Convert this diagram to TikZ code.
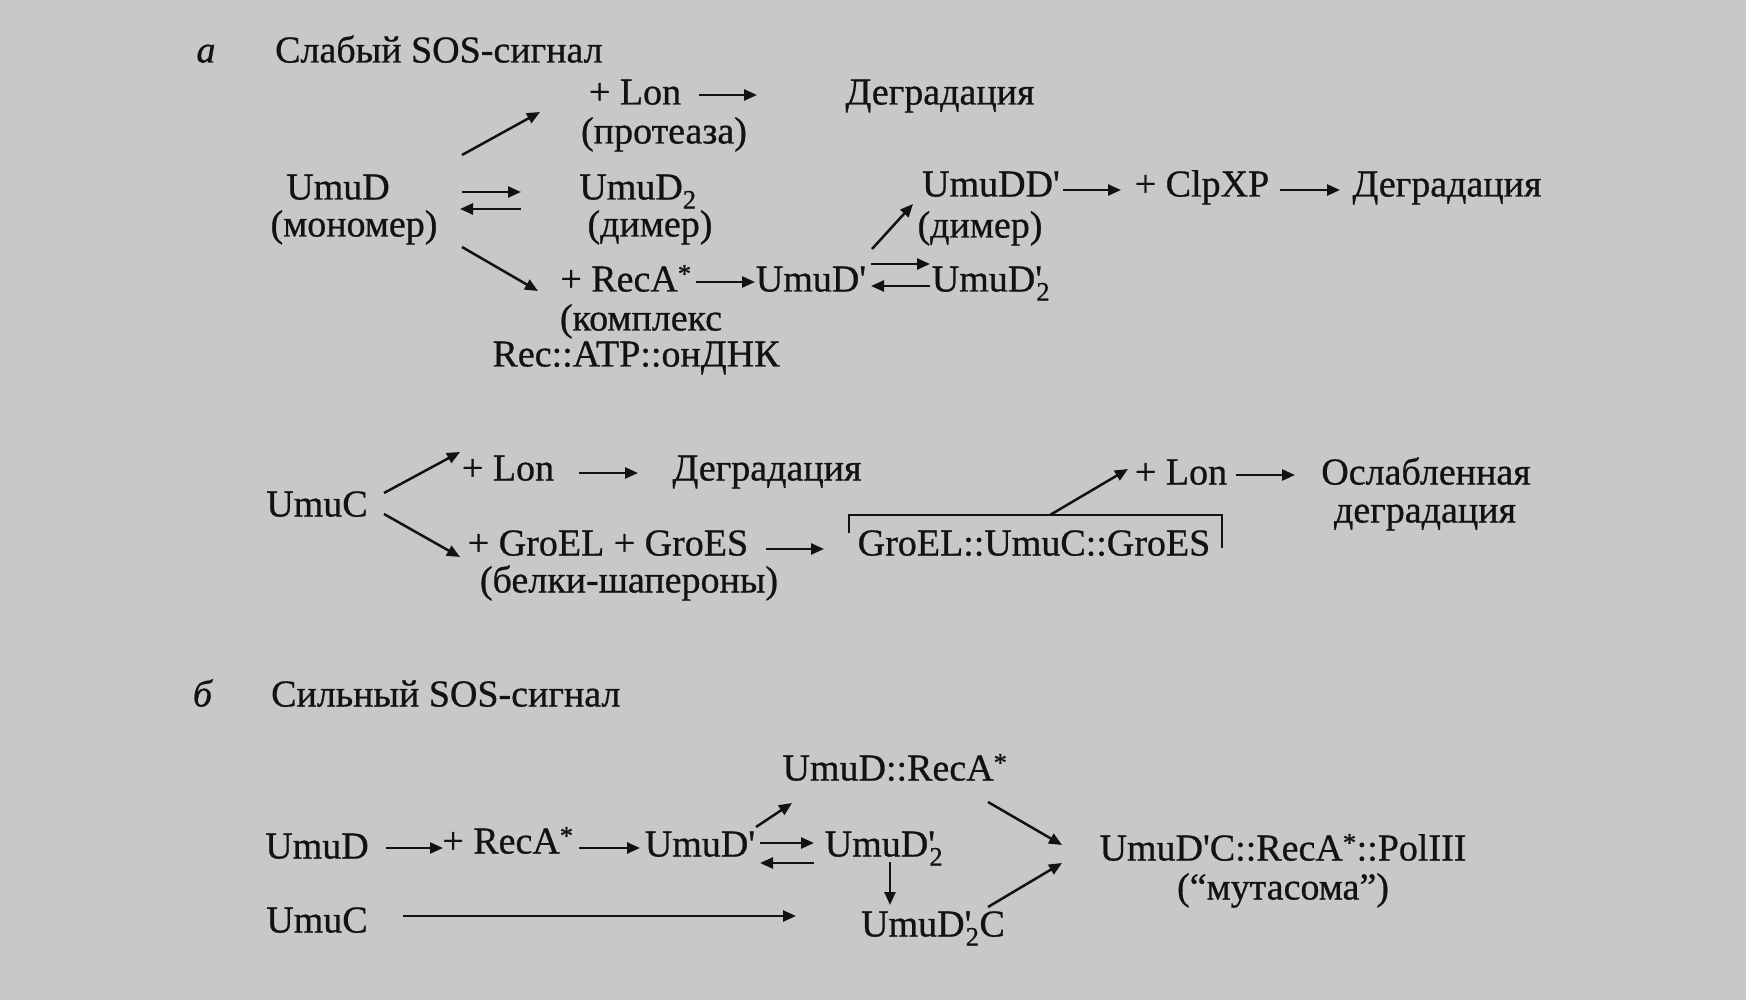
\documentclass[tikz,border=0pt]{standalone}
\usepackage{fontspec}
\setmainfont[FakeBold=0.7]{Liberation Serif}
\usetikzlibrary{arrows.meta}
\definecolor{bg}{RGB}{200,200,200}
\definecolor{ink}{RGB}{18,18,18}
\newcommand\pq{\textquotesingle}
\newcommand\pdsub{\textquotesingle\kern-0.15em\textsubscript{2}}
\begin{document}
\begin{tikzpicture}[x=1pt,y=-1pt,
  lbl/.style={inner sep=0pt, text height=25pt, text depth=0pt, font=\fontsize{38}{44}\selectfont, text=ink},
  arr/.style={draw=ink, line width=2.5pt, -{Triangle[length=13pt,width=11pt]}},
  brk/.style={draw=ink, line width=2.5pt}
]
\fill[bg] (0,0) rectangle (1746,1000);
\useasboundingbox (0,0) rectangle (1746,1000);

% ---- a: weak signal
\node[lbl] (a) at (206,50) {\textit{а}};
\node[lbl, anchor=west] (h1) at (275,50) {Слабый SOS-сигнал};
\node[lbl] (lon1) at (635,92) {+ Lon};
\node[lbl] (deg1) at (940,92) {Деградация};
\node[lbl] (prot) at (664,131) {(протеаза)};
\node[lbl] (umud) at (338,187) {UmuD};
\node[lbl] (mono) at (354,224) {(мономер)};
\node[lbl] (umud2) at (638,187) {UmuD\textsubscript{2}};
\node[lbl] (dim1) at (650,224) {(димер)};
\node[lbl] (reca1) at (626,279) {+ RecA\textsuperscript{*}};
\node[lbl] (kompl) at (641,318) {(комплекс};
\node[lbl] (rec) at (636,354) {Rec::ATP::онДНК};
\node[lbl] (umudp) at (811,279) {UmuD\pq};
\node[lbl] (umudp2) at (991,279) {UmuD\pdsub};
\node[lbl] (umuddp) at (991,184) {UmuDD\pq};
\node[lbl] (dim2) at (980,225) {(димер)};
\node[lbl] (clpxp) at (1202,184) {+ ClpXP};
\node[lbl] (deg2) at (1447,184) {Деградация};

\draw[arr] ([shift={(124,-32)}]umud.center) -- ([shift={(-124,-19)}]prot.center);
\draw[arr] ([shift={(64,3)}]lon1.center) -- ([shift={(-183,3)}]deg1.center);
\draw[arr] ([shift={(124,5)}]umud.center) -- ([shift={(-117,5)}]umud2.center);
\draw[arr] ([shift={(-117,22)}]umud2.center) -- ([shift={(122,22)}]umud.center);
\draw[arr] ([shift={(108,23)}]mono.center) -- ([shift={(-88,12)}]reca1.center);
\draw[arr] ([shift={(70,3)}]reca1.center) -- ([shift={(-56,3)}]umudp.center);
\draw[arr] ([shift={(60,-15)}]umudp.center) -- ([shift={(-61,-15)}]umudp2.center);
\draw[arr] ([shift={(-61,7)}]umudp2.center) -- ([shift={(60,7)}]umudp.center);
\draw[arr] ([shift={(61,-30)}]umudp.center) -- ([shift={(-67,-21)}]dim2.center);
\draw[arr] ([shift={(72,6)}]umuddp.center) -- ([shift={(-81,6)}]clpxp.center);
\draw[arr] ([shift={(78,6)}]clpxp.center) -- ([shift={(-107,6)}]deg2.center);

% ---- UmuC
\node[lbl] (umuc) at (317,504) {UmuC};
\node[lbl] (lon2) at (508,468) {+ Lon};
\node[lbl] (deg3) at (767,468) {Деградация};
\node[lbl] (groel) at (608,543) {+ GroEL + GroES};
\node[lbl] (chap) at (629,580) {(белки-шапероны)};
\node[lbl] (cplx) at (1034,543) {GroEL::UmuC::GroES};
\node[lbl] (lon3) at (1181,472) {+ Lon};
\node[lbl] (osl) at (1426,472) {Ослабленная};
\node[lbl] (deg4) at (1425,510) {деградация};

\draw[arr] ([shift={(67,-11)}]umuc.center) -- ([shift={(-48,-16)}]lon2.center);
\draw[arr] ([shift={(71,5)}]lon2.center) -- ([shift={(-129,5)}]deg3.center);
\draw[arr] ([shift={(67,10)}]umuc.center) -- ([shift={(-148,14)}]groel.center);
\draw[arr] ([shift={(158,6)}]groel.center) -- ([shift={(-210,6)}]cplx.center);
\draw[brk] ([shift={(-185,-10)}]cplx.center) -- ([shift={(-185,-28)}]cplx.center)
  -- ([shift={(188,-28)}]cplx.center) -- ([shift={(188,5)}]cplx.center);
\draw[arr] ([shift={(16,-28)}]cplx.center) -- ([shift={(-53,-3)}]lon3.center);
\draw[arr] ([shift={(55,3)}]lon3.center) -- ([shift={(-131,3)}]osl.center);

% ---- b: strong signal
\node[lbl] (b) at (203,694) {\textit{б}};
\node[lbl, anchor=west] (h2) at (271,694) {Сильный SOS-сигнал};
\node[lbl] (umudreca) at (895,768) {UmuD::RecA\textsuperscript{*}};
\node[lbl] (umud3) at (317,846) {UmuD};
\node[lbl] (reca3) at (508,841) {+ RecA\textsuperscript{*}};
\node[lbl] (umudp3) at (700,844) {UmuD\pq};
\node[lbl] (umudp23) at (884,844) {UmuD\pdsub};
\node[lbl] (mut) at (1283,848) {UmuD\pq C::RecA\textsuperscript{*}::PolIII};
\node[lbl] (mut2) at (1283,887) {(“мутасома”)};
\node[lbl] (umuc3) at (317,920) {UmuC};
\node[lbl] (umud2c) at (933,924) {UmuD\pdsub C};

\draw[arr] ([shift={(69,2)}]umud3.center) -- ([shift={(-65,7)}]reca3.center);
\draw[arr] ([shift={(71,7)}]reca3.center) -- ([shift={(-60,4)}]umudp3.center);
\draw[arr] ([shift={(60,-1)}]umudp3.center) -- ([shift={(-70,-1)}]umudp23.center);
\draw[arr] ([shift={(-70,19)}]umudp23.center) -- ([shift={(60,19)}]umudp3.center);
\draw[arr] ([shift={(56,-17)}]umudp3.center) -- ([shift={(-103,35)}]umudreca.center);
\draw[arr] ([shift={(93,34)}]umudreca.center) -- ([shift={(-221,-3)}]mut.center);
\draw[arr] ([shift={(86,-4)}]umuc3.center) -- ([shift={(-137,-8)}]umud2c.center);
\draw[arr] ([shift={(6,18)}]umudp23.center) -- ([shift={(-43,-19)}]umud2c.center);
\draw[arr] ([shift={(55,-17)}]umud2c.center) -- ([shift={(-221,15)}]mut.center);
\end{tikzpicture}
\end{document}
